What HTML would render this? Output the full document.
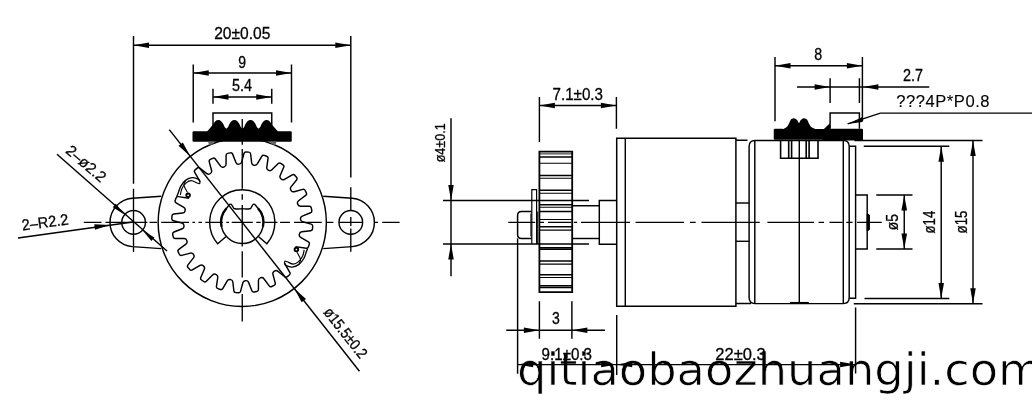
<!DOCTYPE html>
<html><head><meta charset="utf-8"><title>drawing</title>
<style>
html,body{margin:0;padding:0;background:#fff;}
body{width:1032px;height:415px;overflow:hidden;}
svg{display:block;}
#wrap{will-change:transform;width:1032px;height:415px;}
svg .t{font-family:"Liberation Sans",sans-serif;fill:#000;stroke:#000;stroke-width:0.3;}
</style></head><body>
<div id="wrap"><svg width="1032" height="415" viewBox="0 0 1032 415" stroke="#000" fill="none" stroke-linecap="butt" stroke-linejoin="miter">
<text x="517.0" y="384.8" font-family="DejaVu Sans, sans-serif" font-size="44" textLength="526.3" lengthAdjust="spacingAndGlyphs" fill="#000" stroke="#fff" stroke-width="0.7" id="wm">qitiaobaozhuangji.com</text>
<line x1="133.50" y1="36.00" x2="133.50" y2="183.75" stroke-width="1.45"/>
<line x1="350.80" y1="36.00" x2="350.80" y2="177.50" stroke-width="1.45"/>
<line x1="133.50" y1="45.30" x2="350.80" y2="45.30" stroke-width="1.45"/>
<polygon points="133.50,45.30 149.00,42.55 149.00,48.05" fill="#000" stroke="none"/>
<polygon points="350.80,45.30 335.30,48.05 335.30,42.55" fill="#000" stroke="none"/>
<text class="t" x="214.20" y="39.10" font-size="17.2" textLength="56.20" lengthAdjust="spacingAndGlyphs">20±0.05</text>
<line x1="193.25" y1="64.50" x2="193.25" y2="122.50" stroke-width="1.45"/>
<line x1="291.50" y1="64.50" x2="291.50" y2="122.50" stroke-width="1.45"/>
<line x1="193.25" y1="73.00" x2="291.50" y2="73.00" stroke-width="1.45"/>
<polygon points="193.25,73.00 208.75,70.25 208.75,75.75" fill="#000" stroke="none"/>
<polygon points="291.50,73.00 276.00,75.75 276.00,70.25" fill="#000" stroke="none"/>
<text class="t" x="238.20" y="67.60" font-size="16.6" textLength="7.80" lengthAdjust="spacingAndGlyphs">9</text>
<line x1="213.00" y1="88.75" x2="213.00" y2="103.75" stroke-width="1.45"/>
<line x1="271.75" y1="88.75" x2="271.75" y2="103.75" stroke-width="1.45"/>
<line x1="213.00" y1="97.00" x2="271.75" y2="97.00" stroke-width="1.45"/>
<polygon points="213.00,97.00 228.50,94.25 228.50,99.75" fill="#000" stroke="none"/>
<polygon points="271.75,97.00 256.25,99.75 256.25,94.25" fill="#000" stroke="none"/>
<text class="t" x="232.00" y="91.20" font-size="15.6" textLength="20.00" lengthAdjust="spacingAndGlyphs">5.4</text>
<path d="M213,131 V113 H271.75 V131" stroke-width="1.45" fill="none"/>
<circle cx="242.25" cy="222.40" r="84.10" stroke-width="1.45" fill="none"/>
<path d="M161.25,196.20 L132.10,198.20 A24.3,24.3 0 0 0 132.10,246.60 L161.25,248.60" stroke-width="1.45" fill="none"/>
<circle cx="133.60" cy="222.40" r="11.80" stroke-width="1.45" fill="none"/>
<path d="M323.25,196.20 L352.30,198.20 A24.3,24.3 0 0 1 352.30,246.60 L323.25,248.60" stroke-width="1.45" fill="none"/>
<circle cx="350.80" cy="222.40" r="11.80" stroke-width="1.45" fill="none"/>
<path d="M200.17,181.91 L194.72,172.45 Q193.88,170.98 195.16,169.87 L197.16,168.14 Q198.45,167.03 199.78,168.09 L206.77,173.62 Q208.34,174.86 210.01,173.76 L210.41,173.49 Q212.08,172.39 211.57,170.46 L209.27,161.85 Q208.83,160.21 210.36,159.47 L212.74,158.32 Q214.27,157.58 215.28,158.95 L220.60,166.09 Q221.80,167.70 223.70,167.07 L224.16,166.92 Q226.05,166.29 226.06,164.29 L226.07,155.38 Q226.07,153.68 227.74,153.36 L230.33,152.87 Q232.00,152.55 232.63,154.13 L235.91,162.41 Q236.65,164.27 238.65,164.15 L239.13,164.13 Q241.13,164.01 241.65,162.08 L243.96,153.47 Q244.41,151.83 246.10,151.96 L248.73,152.15 Q250.43,152.27 250.62,153.96 L251.66,162.81 Q251.89,164.80 253.85,165.21 L254.32,165.30 Q256.28,165.71 257.28,163.98 L261.75,156.27 Q262.60,154.80 264.20,155.35 L266.69,156.22 Q268.30,156.78 268.05,158.46 L266.76,167.28 Q266.47,169.26 268.25,170.16 L268.69,170.37 Q270.47,171.27 271.89,169.86 L278.20,163.57 Q279.40,162.37 280.81,163.32 L282.99,164.80 Q284.39,165.76 283.72,167.32 L280.19,175.50 Q279.40,177.34 280.89,178.67 L281.25,178.99 Q282.74,180.32 284.48,179.32 L292.20,174.87 Q293.67,174.03 294.78,175.31 L296.51,177.31 Q297.62,178.60 296.56,179.93 L291.03,186.92 Q289.79,188.49 290.89,190.16 L291.16,190.56 Q292.26,192.23 294.19,191.72 L302.80,189.42 Q304.44,188.98 305.18,190.51 L306.33,192.89 Q307.07,194.42 305.70,195.43 L298.56,200.75 Q296.95,201.95 297.58,203.85 L297.73,204.31 Q298.36,206.20 300.36,206.21 L309.27,206.22 Q310.97,206.22 311.29,207.89 L311.78,210.48 Q312.10,212.15 310.52,212.78 L302.24,216.06 Q300.38,216.80 300.50,218.80 L300.52,219.28 Q300.64,221.28 302.57,221.80 L311.18,224.11 Q312.82,224.56 312.69,226.25 L312.50,228.88 Q312.38,230.58 310.69,230.77 L301.84,231.81 Q299.85,232.04 299.44,234.00 L299.35,234.47 Q298.94,236.43 300.67,237.43 L308.38,241.90 Q309.85,242.75 309.30,244.35 L308.43,246.84 Q307.87,248.45 306.19,248.20 L295.39,246.62" stroke-width="1.45" fill="none"/>
<path d="M284.33,262.89 L289.78,272.35 Q290.62,273.82 289.34,274.93 L287.34,276.66 Q286.05,277.77 284.72,276.71 L277.73,271.18 Q276.16,269.94 274.49,271.04 L274.09,271.31 Q272.42,272.41 272.93,274.34 L275.23,282.95 Q275.67,284.59 274.14,285.33 L271.76,286.48 Q270.23,287.22 269.22,285.85 L263.90,278.71 Q262.70,277.10 260.80,277.73 L260.34,277.88 Q258.45,278.51 258.44,280.51 L258.43,289.42 Q258.43,291.12 256.76,291.44 L254.17,291.93 Q252.50,292.25 251.87,290.67 L248.59,282.39 Q247.85,280.53 245.85,280.65 L245.37,280.67 Q243.37,280.79 242.85,282.72 L240.54,291.33 Q240.09,292.97 238.40,292.84 L235.77,292.65 Q234.07,292.53 233.88,290.84 L232.84,281.99 Q232.61,280.00 230.65,279.59 L230.18,279.50 Q228.22,279.09 227.22,280.82 L222.75,288.53 Q221.90,290.00 220.30,289.45 L217.81,288.58 Q216.20,288.02 216.45,286.34 L217.74,277.52 Q218.03,275.54 216.25,274.64 L215.81,274.43 Q214.03,273.53 212.61,274.94 L206.30,281.23 Q205.10,282.43 203.69,281.48 L201.51,280.00 Q200.11,279.04 200.78,277.48 L204.31,269.30 Q205.10,267.46 203.61,266.13 L203.25,265.81 Q201.76,264.48 200.02,265.48 L192.30,269.93 Q190.83,270.77 189.72,269.49 L187.99,267.49 Q186.88,266.20 187.94,264.87 L193.47,257.88 Q194.71,256.31 193.61,254.64 L193.34,254.24 Q192.24,252.57 190.31,253.08 L181.70,255.38 Q180.06,255.82 179.32,254.29 L178.17,251.91 Q177.43,250.38 178.80,249.37 L185.94,244.05 Q187.55,242.85 186.92,240.95 L186.77,240.49 Q186.14,238.60 184.14,238.59 L175.23,238.58 Q173.53,238.58 173.21,236.91 L172.72,234.32 Q172.40,232.65 173.98,232.02 L182.26,228.74 Q184.12,228.00 184.00,226.00 L183.98,225.52 Q183.86,223.52 181.93,223.00 L173.32,220.69 Q171.68,220.24 171.81,218.55 L172.00,215.92 Q172.12,214.22 173.81,214.03 L182.66,212.99 Q184.65,212.76 185.06,210.80 L185.15,210.33 Q185.56,208.37 183.83,207.37 L176.12,202.90 Q174.65,202.05 175.20,200.45 L176.07,197.96 Q176.63,196.35 178.31,196.60 L189.11,198.18" stroke-width="1.45" fill="none"/>
<path d="M200.00,181.80 C199.77,181.40 199.87,180.08 198.60,179.40 C197.33,178.72 194.58,177.53 192.40,177.70 C190.22,177.87 187.45,178.97 185.50,180.40 C183.55,181.83 181.93,184.17 180.70,186.30 C179.47,188.43 178.75,191.52 178.10,193.20 C177.45,194.88 177.02,195.87 176.80,196.40" stroke-width="1.35" fill="none"/>
<path d="M200.00,181.80 C199.93,182.10 200.07,183.40 199.60,183.60 C199.13,183.80 198.58,183.48 197.20,183.00 C195.82,182.52 193.13,180.72 191.30,180.70 C189.47,180.68 187.75,181.60 186.20,182.90 C184.65,184.20 182.98,186.48 182.00,188.50 C181.02,190.52 180.58,193.92 180.30,195.00" stroke-width="1.2" fill="none"/>
<path d="M185.50,181.10 C185.23,181.72 183.93,183.55 183.90,184.80 C183.87,186.05 184.68,187.30 185.30,188.60 C185.92,189.90 187.22,191.93 187.60,192.60" stroke-width="1.1" fill="none"/>
<circle cx="188.10" cy="195.30" r="1.80" stroke-width="1.9" fill="none"/>
<path d="M284.50,263.00 C284.73,263.40 284.63,264.72 285.90,265.40 C287.17,266.08 289.92,267.27 292.10,267.10 C294.28,266.93 297.05,265.83 299.00,264.40 C300.95,262.97 302.57,260.63 303.80,258.50 C305.03,256.37 305.75,253.28 306.40,251.60 C307.05,249.92 307.48,248.93 307.70,248.40" stroke-width="1.35" fill="none"/>
<path d="M284.50,263.00 C284.57,262.70 284.43,261.40 284.90,261.20 C285.37,261.00 285.92,261.32 287.30,261.80 C288.68,262.28 291.37,264.08 293.20,264.10 C295.03,264.12 296.75,263.20 298.30,261.90 C299.85,260.60 301.52,258.32 302.50,256.30 C303.48,254.28 303.92,250.88 304.20,249.80" stroke-width="1.2" fill="none"/>
<path d="M299.00,263.70 C299.27,263.08 300.57,261.25 300.60,260.00 C300.63,258.75 299.82,257.50 299.20,256.20 C298.58,254.90 297.28,252.87 296.90,252.20" stroke-width="1.1" fill="none"/>
<circle cx="296.40" cy="249.50" r="1.80" stroke-width="1.9" fill="none"/>
<path d="M226.10,236.44 L217.65,243.79 A32.6,32.6 0 1 1 266.85,243.79 L258.40,236.44" stroke-width="1.45" fill="none"/>
<path d="M226.14,208.7 A21.15,21.15 0 1 0 258.36,208.7 L255.55,205.3 Q253.95,203.0 252.45,205.3 L250.65,208.5 Q246.25,209.5 242.25,208.6 Q238.25,209.5 233.85,208.5 L232.05,205.3 Q230.55,203.0 228.95,205.3 Z" stroke-width="1.4" fill="none"/>
<path d="M226.53,208.25 A21.15,21.15 0 0 0 221.56,226.80" stroke-width="2.3" fill="none"/>
<path d="M257.97,208.25 A21.15,21.15 0 0 1 262.94,226.80" stroke-width="2.3" fill="none"/>
<path d="M83.80,222.40 H101.50 M105.50,222.40 H147.40 M149.50,222.40 H157.00 M161.20,222.40 H189.00 M192.40,222.40 H195.00 M198.50,222.40 H202.00 M205.30,222.40 H222.90 M226.40,222.40 H229.00 M231.70,222.40 H252.80 M256.30,222.40 H260.70 M264.30,222.40 H277.50 M280.10,222.40 H290.00 M294.10,222.40 H321.70 M326.90,222.40 H333.40 M339.10,222.40 H362.70 M374.00,222.40 H378.00 M382.20,222.40 H399.60" stroke-width="1.35" fill="none"/>
<path d="M242.25,118.90 V144.80 M242.25,149.10 V188.80 M242.25,194.20 V199.70 M242.25,205.00 V246.50 M242.25,251.30 V277.60 M242.25,294.00 V321.50" stroke-width="1.35" fill="none"/>
<line x1="133.50" y1="188.75" x2="133.50" y2="252.00" stroke-width="1.35"/>
<path d="M350.80,187.20 V210.70 M350.80,216.90 V226.00 M350.80,228.50 V251.70" stroke-width="1.35" fill="none"/>
<line x1="169.28" y1="129.67" x2="359.44" y2="371.32" stroke-width="1.45"/>
<polygon points="190.24,156.31 178.50,145.83 182.82,142.43" fill="#000" stroke="none"/>
<polygon points="294.26,288.49 306.00,298.97 301.68,302.37" fill="#000" stroke="none"/>
<text class="t" x="322.90" y="312.50" font-size="15.5" textLength="60.00" lengthAdjust="spacingAndGlyphs" transform="rotate(51.80 322.90 312.50)">ø15.5±0.2</text>
<line x1="57.00" y1="154.25" x2="167.00" y2="251.00" stroke-width="1.45"/>
<polygon points="124.69,214.66 112.77,207.34 115.79,203.87" fill="#000" stroke="none"/>
<polygon points="142.51,230.14 154.43,237.46 151.41,240.93" fill="#000" stroke="none"/>
<text class="t" x="64.70" y="151.90" font-size="15.2" textLength="47.50" lengthAdjust="spacingAndGlyphs" transform="rotate(41.00 64.70 151.90)">2–ø2.2</text>
<line x1="18.00" y1="238.00" x2="133.00" y2="222.00" stroke-width="1.45"/>
<polygon points="110.00,224.90 95.03,229.75 94.27,224.31" fill="#000" stroke="none"/>
<text class="t" x="22.50" y="230.50" font-size="15.5" textLength="47.00" lengthAdjust="spacingAndGlyphs" transform="rotate(-7.50 22.50 230.50)">2–R2.2</text>
<path d="M193.5,131.25 H207.2 L212.9,124.8 C214.50,121.8 216.00,119.9 218.30,119.9 C220.60,119.9 222.10,121.8 223.70,124.8 Q226.35,132.4 229.00,124.8 C230.60,121.8 232.10,119.9 234.40,119.9 C236.70,119.9 238.20,121.8 239.80,124.8 Q242.45,132.4 245.10,124.8 C246.70,121.8 248.20,119.9 250.50,119.9 C252.80,119.9 254.30,121.8 255.90,124.8 Q258.55,132.4 261.20,124.8 C262.80,121.8 264.30,119.9 266.60,119.9 C268.90,119.9 270.40,121.8 272.00,124.8 L277.8,131.25 H290.75 Q291.75,131.25 291.75,132.25 V140.75 Q291.75,141.75 290.75,141.75 H193.5 Q192.5,141.75 192.5,140.75 V132.25 Q192.5,131.25 193.5,131.25 Z" fill="#000" stroke="none"/>
<path d="M207.8,141.5 H213.6 L213.3,143.7 L209.4,145.3 Z M276.7,141.5 H270.9 L271.2,143.7 L275.1,145.3 Z" fill="#666" stroke="none"/>
<line x1="451.00" y1="118.25" x2="451.00" y2="276.25" stroke-width="1.45"/>
<polygon points="451.00,200.50 448.25,185.00 453.75,185.00" fill="#000" stroke="none"/>
<polygon points="451.00,243.90 453.75,259.40 448.25,259.40" fill="#000" stroke="none"/>
<line x1="443.00" y1="200.50" x2="589.00" y2="200.50" stroke-width="1.45"/>
<line x1="443.00" y1="243.90" x2="589.00" y2="243.90" stroke-width="1.45"/>
<text class="t" x="444.80" y="162.30" font-size="15" textLength="39.00" lengthAdjust="spacingAndGlyphs" transform="rotate(-90.00 444.80 162.30)">ø4±0.1</text>
<line x1="539.40" y1="97.00" x2="539.40" y2="142.00" stroke-width="1.45"/>
<line x1="616.40" y1="97.00" x2="616.40" y2="128.75" stroke-width="1.45"/>
<line x1="539.40" y1="105.50" x2="616.40" y2="105.50" stroke-width="1.45"/>
<polygon points="539.40,105.50 554.90,102.75 554.90,108.25" fill="#000" stroke="none"/>
<polygon points="616.40,105.50 600.90,108.25 600.90,102.75" fill="#000" stroke="none"/>
<text class="t" x="552.50" y="99.60" font-size="17.2" textLength="50.50" lengthAdjust="spacingAndGlyphs">7.1±0.3</text>
<path d="M539.4,151.6 H572.2 V292.2 H539.4 Z" stroke-width="1.8" fill="none"/>
<line x1="539.40" y1="153.90" x2="572.20" y2="153.90" stroke-width="0.9"/>
<line x1="539.40" y1="157.00" x2="572.20" y2="157.00" stroke-width="1.7"/>
<line x1="539.40" y1="163.30" x2="572.20" y2="163.30" stroke-width="1.1"/>
<line x1="539.40" y1="175.60" x2="572.20" y2="175.60" stroke-width="1.5"/>
<line x1="539.40" y1="178.30" x2="572.20" y2="178.30" stroke-width="1.1"/>
<line x1="539.40" y1="190.30" x2="572.20" y2="190.30" stroke-width="1.5"/>
<line x1="539.40" y1="193.30" x2="572.20" y2="193.30" stroke-width="1.1"/>
<line x1="539.40" y1="204.80" x2="572.20" y2="204.80" stroke-width="1.4"/>
<line x1="539.40" y1="207.30" x2="572.20" y2="207.30" stroke-width="1.1"/>
<line x1="539.40" y1="211.50" x2="572.20" y2="211.50" stroke-width="1.6"/>
<line x1="539.40" y1="219.50" x2="572.20" y2="219.50" stroke-width="1.2"/>
<line x1="539.40" y1="226.80" x2="572.20" y2="226.80" stroke-width="1.6"/>
<line x1="539.40" y1="230.10" x2="572.20" y2="230.10" stroke-width="1.2"/>
<line x1="539.40" y1="247.60" x2="572.20" y2="247.60" stroke-width="1.4"/>
<line x1="539.40" y1="249.10" x2="572.20" y2="249.10" stroke-width="1.6"/>
<line x1="539.40" y1="260.90" x2="572.20" y2="260.90" stroke-width="1.5"/>
<line x1="539.40" y1="264.20" x2="572.20" y2="264.20" stroke-width="1.2"/>
<line x1="539.40" y1="274.70" x2="572.20" y2="274.70" stroke-width="1.6"/>
<line x1="539.40" y1="277.50" x2="572.20" y2="277.50" stroke-width="1.2"/>
<line x1="539.40" y1="285.70" x2="572.20" y2="285.70" stroke-width="1.4"/>
<line x1="539.40" y1="287.50" x2="572.20" y2="287.50" stroke-width="1.5"/>
<path d="M531.8,243.9 V189.7 H536.6 V243.9" stroke-width="1.2" fill="none"/>
<path d="M531.8,211.5 H521.5 Q517.6,211.5 517.6,215.5 V234.5 Q517.6,238.5 521.5,238.5 H531.8" stroke-width="1.5" fill="none"/>
<line x1="537.70" y1="211.50" x2="537.70" y2="243.90" stroke-width="1.0"/>
<line x1="530.90" y1="213.50" x2="530.90" y2="236.50" stroke-width="1.0"/>
<line x1="572.20" y1="205.75" x2="599.30" y2="205.75" stroke-width="1.45"/>
<line x1="572.20" y1="238.50" x2="599.30" y2="238.50" stroke-width="1.45"/>
<path d="M616.6,200.5 H599.3 V244.2 H616.6" stroke-width="1.45" fill="none"/>
<path d="M616.7,138.2 H735.9 V306.3 H616.7 Z" stroke-width="1.5" fill="none"/>
<line x1="625.30" y1="138.20" x2="625.30" y2="306.30" stroke-width="1.45"/>
<path d="M736,140.3 H747.5 M736,303.45 H751" stroke-width="1.45" fill="none"/>
<line x1="735.90" y1="203.00" x2="749.30" y2="203.00" stroke-width="1.45"/>
<line x1="735.90" y1="241.30" x2="749.30" y2="241.30" stroke-width="1.45"/>
<path d="M749.1,297.6 V146.3 Q749.1,140.4 755,140.4 H843.3 Q849.2,140.4 849.2,146.3 V297.6 Q849.2,303.6 843.3,303.6 H755 Q749.1,303.6 749.1,297.6 Z" stroke-width="1.45" fill="none"/>
<line x1="754.80" y1="140.60" x2="754.80" y2="303.40" stroke-width="1.45"/>
<line x1="843.30" y1="140.60" x2="843.30" y2="303.40" stroke-width="1.45"/>
<line x1="799.30" y1="140.30" x2="799.30" y2="303.60" stroke-width="1.45"/>
<path d="M790,302.9 H808.8" stroke-width="1.9" fill="none"/>
<path d="M849.2,146.3 H855.6 V298.2 H849.2" stroke-width="1.45" fill="none"/>
<path d="M855.6,195 H867.2 V248.9 H855.6" stroke-width="1.45" fill="none"/>
<path d="M867.2,213.6 L869.4,215 V229.6 L867.2,231 Z" stroke-width="1.0" fill="#000"/>
<path d="M780.6,140 V158.2 H818 V140 M788.7,140 V158.2 M791.6,140 V158.2 M806.2,140 V158.2 M809.1,140 V158.2" stroke-width="1.6" fill="none"/>
<path d="M508.30,222.30 H535.20 M540.10,222.30 H544.00 M548.00,222.30 H571.20 M573.90,222.30 H577.20 M581.00,222.30 H630.00 M635.60,222.30 H684.00 M690.00,222.30 H695.70 M701.50,222.30 H759.70 M767.40,222.30 H814.00 M818.60,222.30 H824.00 M829.50,222.30 H842.70 M846.30,222.30 H852.60 M857.10,222.30 H881.80" stroke-width="1.35" fill="none"/>
<path d="M774.75,128.75 H782 L783.60,128.90 C784.07,128.63 785.60,127.98 786.40,127.30 C787.20,126.62 787.75,125.95 788.40,124.80 C789.05,123.65 789.70,121.40 790.30,120.40 C790.90,119.40 791.40,119.15 792.00,118.80 C792.60,118.45 793.25,118.28 793.90,118.30 C794.55,118.32 795.30,118.55 795.90,118.90 C796.50,119.25 796.98,119.72 797.50,120.40 C798.02,121.08 798.52,123.00 799.00,123.00 C799.48,123.00 799.90,121.08 800.40,120.40 C800.90,119.72 801.40,119.25 802.00,118.90 C802.60,118.55 803.35,118.32 804.00,118.30 C804.65,118.28 805.30,118.45 805.90,118.80 C806.50,119.15 806.98,119.40 807.60,120.40 C808.22,121.40 808.93,123.65 809.60,124.80 C810.27,125.95 810.68,126.62 811.60,127.30 C812.52,127.98 814.52,128.63 815.10,128.90 H823.9 L830.1,122.9 V128.75 H862 Q863,128.75 863,129.75 V139.5 Q863,140.5 862,140.5 H822.5 V139.7 H774.75 Q773.75,139.7 773.75,138.7 V129.75 Q773.75,128.75 774.75,128.75 Z" fill="#000" stroke="none"/>
<path d="M830.1,128.75 V113 H859.4 V128.75" stroke-width="1.45" fill="none"/>
<line x1="775.00" y1="57.00" x2="775.00" y2="121.25" stroke-width="1.45"/>
<line x1="862.40" y1="57.00" x2="862.40" y2="121.40" stroke-width="1.45"/>
<line x1="775.00" y1="65.75" x2="862.40" y2="65.75" stroke-width="1.45"/>
<polygon points="775.00,65.75 790.50,63.00 790.50,68.50" fill="#000" stroke="none"/>
<polygon points="862.40,65.75 846.90,68.50 846.90,63.00" fill="#000" stroke="none"/>
<text class="t" x="814.30" y="59.80" font-size="16.4" textLength="7.90" lengthAdjust="spacingAndGlyphs">8</text>
<line x1="830.10" y1="78.25" x2="830.10" y2="103.00" stroke-width="1.45"/>
<line x1="859.40" y1="78.25" x2="859.40" y2="103.00" stroke-width="1.45"/>
<line x1="797.00" y1="87.00" x2="929.25" y2="87.00" stroke-width="1.45"/>
<polygon points="830.10,87.00 814.60,89.75 814.60,84.25" fill="#000" stroke="none"/>
<polygon points="862.90,87.00 878.40,84.25 878.40,89.75" fill="#000" stroke="none"/>
<text class="t" x="903.00" y="80.90" font-size="16.2" textLength="20.00" lengthAdjust="spacingAndGlyphs">2.7</text>
<path d="M1032,113.1 H880.3 L847.6,123.9" stroke-width="1.45" fill="none"/>
<polygon points="847.6,123.9 862.4,116.9 862.4,121.9" fill="#000" stroke="none"/>
<text class="t" style="stroke-width:0.1" x="896.3" y="106.9" font-size="16.6" textLength="93.2" lengthAdjust="spacing">???4P*P0.8</text>
<line x1="854.50" y1="140.50" x2="982.50" y2="140.50" stroke-width="1.45"/>
<line x1="853.75" y1="303.80" x2="982.50" y2="303.80" stroke-width="1.45"/>
<line x1="973.00" y1="140.50" x2="973.00" y2="303.80" stroke-width="1.45"/>
<polygon points="973.00,140.50 975.75,156.00 970.25,156.00" fill="#000" stroke="none"/>
<polygon points="973.00,303.80 970.25,288.30 975.75,288.30" fill="#000" stroke="none"/>
<line x1="863.75" y1="146.30" x2="949.30" y2="146.30" stroke-width="1.45"/>
<line x1="864.50" y1="298.40" x2="949.30" y2="298.40" stroke-width="1.45"/>
<line x1="941.20" y1="146.30" x2="941.20" y2="298.40" stroke-width="1.45"/>
<polygon points="941.20,146.30 943.95,161.80 938.45,161.80" fill="#000" stroke="none"/>
<polygon points="941.20,298.40 938.45,282.90 943.95,282.90" fill="#000" stroke="none"/>
<line x1="876.25" y1="195.00" x2="912.50" y2="195.00" stroke-width="1.45"/>
<line x1="876.25" y1="249.00" x2="912.50" y2="249.00" stroke-width="1.45"/>
<line x1="904.25" y1="195.00" x2="904.25" y2="249.00" stroke-width="1.45"/>
<polygon points="904.25,195.00 907.05,210.50 901.45,210.50" fill="#000" stroke="none"/>
<polygon points="904.25,249.00 901.45,233.50 907.05,233.50" fill="#000" stroke="none"/>
<text class="t" x="898.40" y="230.20" font-size="17.2" textLength="16.30" lengthAdjust="spacingAndGlyphs" transform="rotate(-90.00 898.40 230.20)">ø5</text>
<text class="t" x="935.00" y="233.40" font-size="17.2" textLength="22.60" lengthAdjust="spacingAndGlyphs" transform="rotate(-90.00 935.00 233.40)">ø14</text>
<text class="t" x="967.50" y="233.40" font-size="17.2" textLength="22.80" lengthAdjust="spacingAndGlyphs" transform="rotate(-90.00 967.50 233.40)">ø15</text>
<line x1="539.40" y1="301.25" x2="539.40" y2="338.75" stroke-width="1.45"/>
<line x1="571.90" y1="301.25" x2="571.90" y2="338.75" stroke-width="1.45"/>
<line x1="506.25" y1="330.30" x2="605.00" y2="330.30" stroke-width="1.45"/>
<polygon points="539.40,330.30 523.90,333.05 523.90,327.55" fill="#000" stroke="none"/>
<polygon points="571.90,330.30 587.40,327.55 587.40,333.05" fill="#000" stroke="none"/>
<text class="t" x="552.00" y="324.20" font-size="16.6" textLength="7.80" lengthAdjust="spacingAndGlyphs">3</text>
<line x1="517.60" y1="238.50" x2="517.60" y2="373.75" stroke-width="1.45"/>
<line x1="616.70" y1="315.00" x2="616.70" y2="375.00" stroke-width="1.45"/>
<line x1="855.60" y1="307.50" x2="855.60" y2="373.50" stroke-width="1.45"/>
<line x1="517.60" y1="364.60" x2="855.60" y2="364.60" stroke-width="1.45"/>
<polygon points="517.60,364.60 533.10,361.85 533.10,367.35" fill="#000" stroke="none"/>
<polygon points="616.70,364.60 601.20,367.35 601.20,361.85" fill="#000" stroke="none"/>
<polygon points="616.70,364.60 632.20,361.85 632.20,367.35" fill="#000" stroke="none"/>
<polygon points="855.60,364.60 840.10,367.35 840.10,361.85" fill="#000" stroke="none"/>
<text class="t" x="541.60" y="360.10" font-size="16.2" textLength="50.40" lengthAdjust="spacingAndGlyphs">9.1±0.3</text>
<text class="t" x="715.30" y="360.10" font-size="16.2" textLength="50.40" lengthAdjust="spacingAndGlyphs">22±0.3</text>
</svg></div>
</body></html>
